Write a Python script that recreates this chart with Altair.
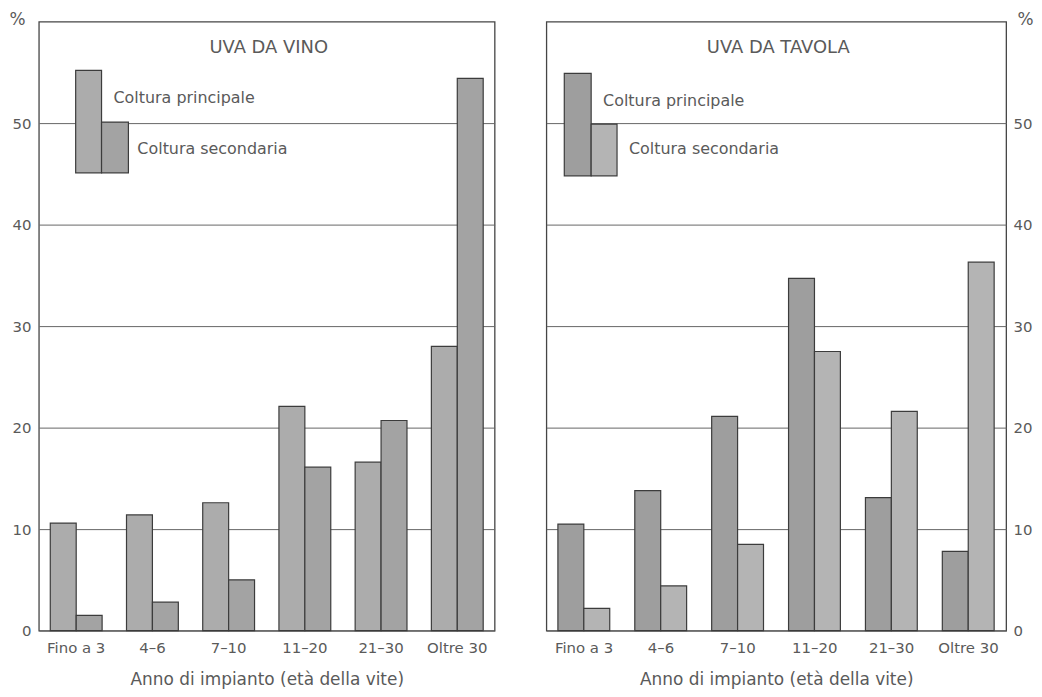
import altair as alt
import pandas as pd

# ---- data ----
categories = ["Fino a 3", "4–6", "7–10", "11–20", "21–30", "Oltre 30"]
series = ["Coltura principale", "Coltura secondaria"]

vino_principale = [10.6, 11.4, 12.6, 22.1, 16.6, 28.0]
vino_secondaria = [1.5, 2.8, 5.0, 16.1, 20.7, 54.4]

tavola_principale = [10.5, 13.8, 21.1, 34.7, 13.1, 7.8]
tavola_secondaria = [2.2, 4.4, 8.5, 27.5, 21.6, 36.3]

y_ticks = [0, 10, 20, 30, 40, 50]
panel_titles = ["UVA DA VINO", "UVA DA TAVOLA"]
x_title = "Anno di impianto (età della vite)"

FONT = "DejaVu Sans"
TEXT = "#5a5a5a"
STROKE = "#3c3c3c"
H = 612


def panel(title, prin, sec, orient, fills, leg, W):
    df = pd.DataFrame({
        "anno": categories * 2,
        "serie": [series[0]] * len(categories) + [series[1]] * len(categories),
        "valore": prin + sec,
    })
    if orient == "left":
        yaxis = alt.Axis(orient="left", values=y_ticks, title="%", titleAngle=0,
                         titleX=-22, titleY=-2, titleAlign="center", titleBaseline="middle",
                         grid=True, domain=False, ticks=False, labelPadding=8)
    else:
        yaxis = alt.Axis(orient="right", values=y_ticks, title="%", titleAngle=0,
                         titleX=19, titleY=-2, titleAlign="center", titleBaseline="middle",
                         grid=True, domain=False, ticks=False, labelPadding=7)

    bars = alt.Chart(df).mark_bar(stroke=STROKE, strokeWidth=1.2).encode(
        x=alt.X("anno:N", sort=categories,
                scale=alt.Scale(paddingInner=0.32, paddingOuter=0.15),
                axis=alt.Axis(title=x_title, labelAngle=0, ticks=False, domain=False,
                              labelPadding=10, titlePadding=16, grid=False)),
        xOffset=alt.XOffset("serie:N", sort=series,
                            scale=alt.Scale(paddingInner=0, paddingOuter=0)),
        y=alt.Y("valore:Q", scale=alt.Scale(domain=[0, 60], nice=False), axis=yaxis),
        color=alt.Color("serie:N", scale=alt.Scale(domain=series, range=fills), legend=None),
    )

    layers = [bars]
    # custom legend (stepped bars as in the original)
    (p_x0, p_x1, p_y0, p_y1), (s_x0, s_x1, s_y0, s_y1), (tp_x, tp_y), (ts_x, ts_y) = leg
    one = pd.DataFrame({"k": [0]})
    layers.append(alt.Chart(one).mark_rect(stroke=STROKE, strokeWidth=1.2).encode(
        x=alt.value(p_x0), x2=alt.value(p_x1), y=alt.value(p_y0), y2=alt.value(p_y1),
        fill=alt.value(fills[0])))
    layers.append(alt.Chart(one).mark_rect(stroke=STROKE, strokeWidth=1.2).encode(
        x=alt.value(s_x0), x2=alt.value(s_x1), y=alt.value(s_y0), y2=alt.value(s_y1),
        fill=alt.value(fills[1])))
    layers.append(alt.Chart(pd.DataFrame({"t": [series[0]]})).mark_text(
        align="left", baseline="middle", font=FONT, fontSize=16, color=TEXT).encode(
        x=alt.value(tp_x), y=alt.value(tp_y), text="t:N"))
    layers.append(alt.Chart(pd.DataFrame({"t": [series[1]]})).mark_text(
        align="left", baseline="middle", font=FONT, fontSize=16, color=TEXT).encode(
        x=alt.value(ts_x), y=alt.value(ts_y), text="t:N"))
    # panel title inside the frame
    layers.append(alt.Chart(pd.DataFrame({"t": [title]})).mark_text(
        align="center", baseline="middle", font=FONT, fontSize=18, color=TEXT).encode(
        x=alt.value(W / 2 + 2), y=alt.value(27), text="t:N"))

    return alt.layer(*layers).properties(width=W, height=H).resolve_scale(color="independent")


left = panel(panel_titles[0], vino_principale, vino_secondaria, "left",
             ["#acacac", "#a3a3a3"],
             [(37, 63, 49, 152), (63, 90, 101, 152), (75, 77), (99, 128)], 458)
right = panel(panel_titles[1], tavola_principale, tavola_secondaria, "right",
              ["#9e9e9e", "#b4b4b4"],
              [(18, 45, 52, 155), (45, 71, 103, 155), (57, 80), (83, 128)], 462)

chart = alt.hconcat(left, right, spacing=50).resolve_scale(color="independent").properties(
    padding={"left": 0, "top": 0, "right": 0, "bottom": 0},
    background="white",
).configure_view(
    stroke="#454545", strokeWidth=1.3
).configure_axis(
    labelFont=FONT, titleFont=FONT, labelColor=TEXT, titleColor=TEXT,
    labelFontSize=15, titleFontSize=17, titleFontWeight="normal",
    gridColor="#666666", gridWidth=1, gridOpacity=1,
)

chart.save("out.html", embed_options={"renderer": "svg", "actions": False})
